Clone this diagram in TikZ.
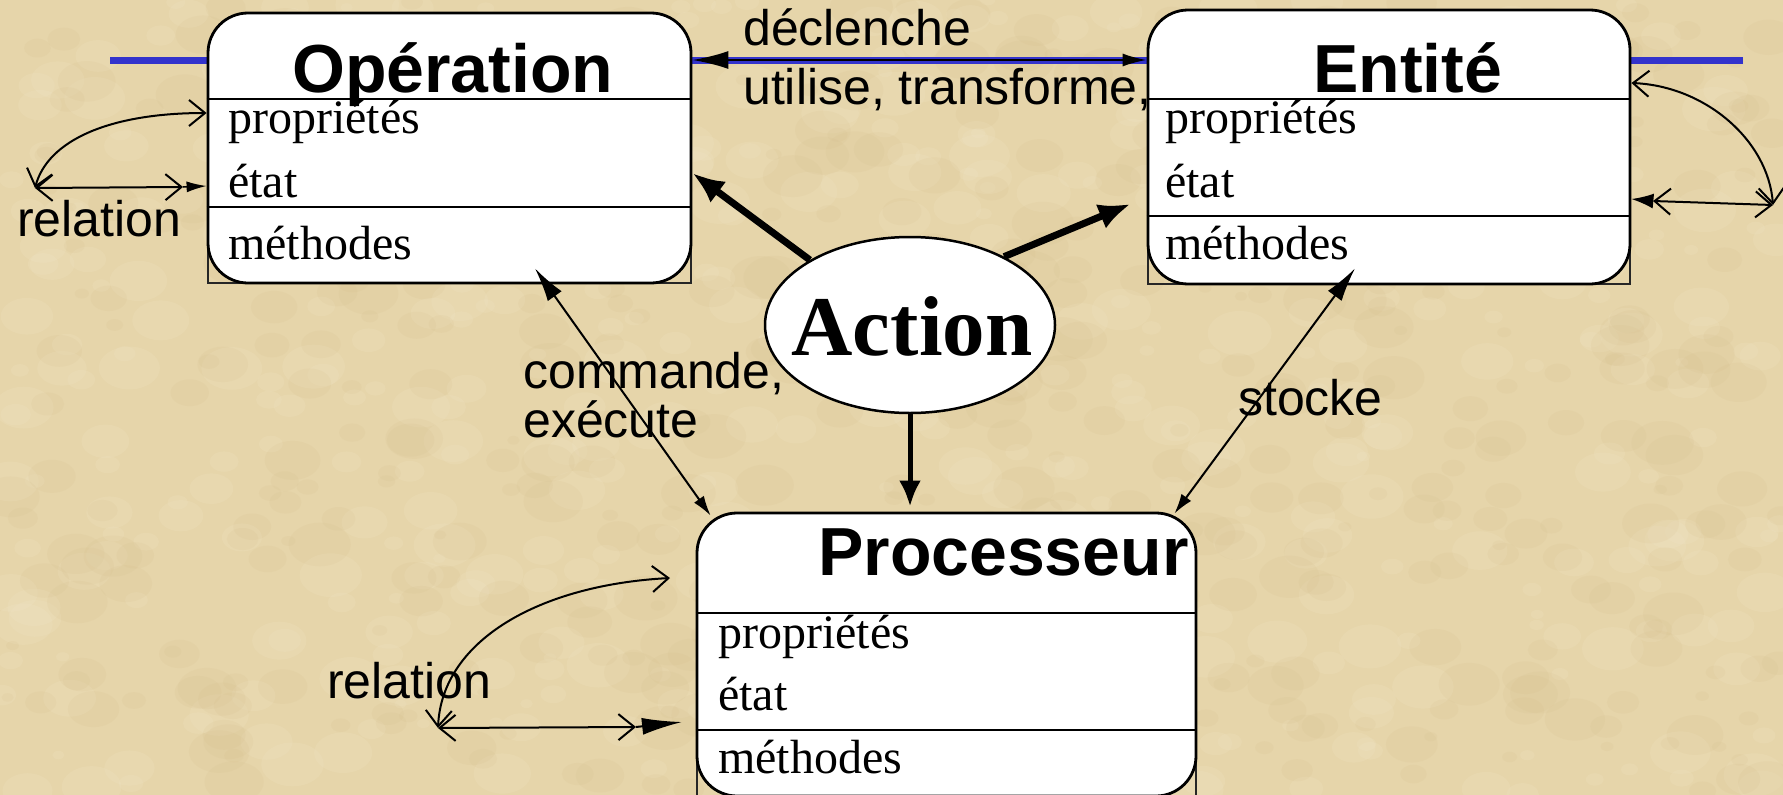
\documentclass[tikz,border=0pt]{standalone}
\usepackage{fontspec}
\setmainfont{Liberation Serif}
\setsansfont{Liberation Sans}
\usetikzlibrary{arrows.meta,shapes.geometric,calc}

\definecolor{parch}{RGB}{230,213,170}
\definecolor{parchlight}{RGB}{243,232,204}
\definecolor{parchdark}{RGB}{210,186,136}
\definecolor{rail}{RGB}{51,51,204}

\tikzset{
  classbox/.style={draw=black, line width=2.8pt, fill=white, rounded corners=40pt, inner sep=0pt},
  backrect/.style={draw=black!85, line width=1.4pt},
  sepline/.style={line width=2.5pt},
  titletext/.style={font=\sffamily\bfseries\fontsize{68}{72}\selectfont, inner sep=0pt, anchor=base west},
  itemtext/.style={font=\rmfamily\fontsize{48}{52}\selectfont, inner sep=0pt, anchor=base west},
  labeltext/.style={font=\sffamily\fontsize{50}{54}\selectfont, inner sep=0pt, anchor=base west},
  thickarrow/.style={line width=7pt, -{Latex[length=32pt,width=26pt]}},
  link/.style={line width=2pt, {Latex[length=34pt,width=17pt]}-{Latex[length=20pt,width=12pt]}},
  relarrow/.style={line width=2pt, {Straight Barb[length=16pt,width=26pt]}-{Straight Barb[length=16pt,width=26pt]}},
  wedge/.style={line width=1.5pt},
}

\begin{document}
\begin{tikzpicture}[x=1pt,y=-1pt]
\useasboundingbox (0,0) rectangle (1783,795);

% parchment background with a soft mottled grain
\begin{scope}
  \clip (0,0) rectangle (1783,795);
  \fill[parch] (0,0) rectangle (1783,795);
  \pgfmathsetseed{11}
  \foreach \k in {1,...,500}{
    \pgfmathsetmacro{\px}{rnd*1783}
    \pgfmathsetmacro{\py}{rnd*795}
    \pgfmathsetmacro{\pr}{6+rnd*26}
    \fill[parchlight, opacity=0.16] (\px,\py) ellipse [x radius=\pr pt, y radius=0.7*\pr pt];
  }
  \foreach \k in {1,...,500}{
    \pgfmathsetmacro{\px}{rnd*1783}
    \pgfmathsetmacro{\py}{rnd*795}
    \pgfmathsetmacro{\pr}{6+rnd*26}
    \fill[parchdark, opacity=0.12] (\px,\py) ellipse [x radius=\pr pt, y radius=0.7*\pr pt];
  }
\end{scope}

% blue rail behind the classes
\coordinate (railL) at (110,60);
\coordinate (railR) at (1743,60);
\draw[rail, line width=7pt] (railL) -- (railR);

% square frames under the rounded boxes
\draw[backrect] (208,99) rectangle (691,283);
\draw[backrect] (1148,99) rectangle (1630,284);
\draw[backrect] (697,613) rectangle (1196,800);

% class boxes
\node[classbox, minimum width=483pt, minimum height=270pt] (op) at (449.5,148) {};
\node[classbox, minimum width=482pt, minimum height=274pt] (ent) at (1389,147) {};
\node[classbox, minimum width=499pt, minimum height=283pt] (proc) at (946.5,654.5) {};

% compartments
\draw[sepline] (op.west |- 0,99) -- (op.east |- 0,99);
\draw[sepline] (op.west |- 0,207) -- (op.east |- 0,207);
\draw[sepline] (ent.west |- 0,99) -- (ent.east |- 0,99);
\draw[sepline] (ent.west |- 0,216) -- (ent.east |- 0,216);
\draw[sepline] (proc.west |- 0,613) -- (proc.east |- 0,613);
\draw[sepline] (proc.west |- 0,730) -- (proc.east |- 0,730);

% class contents
\node[titletext] (opT) at (292,92) {Opération};
\node[itemtext] (opP) at (228,133) {propriétés};
\node[itemtext] (opS) at (228,197) {état};
\node[itemtext] (opM) at (228,259) {méthodes};

\node[titletext] (entT) at (1313,92) {Entité};
\node[itemtext] (entP) at (1165,133) {propriétés};
\node[itemtext] (entS) at (1165,197) {état};
\node[itemtext] (entM) at (1165,259) {méthodes};

\node[titletext] (procT) at (818,575) {Processeur};
\node[itemtext] (procP) at (718,648) {propriétés};
\node[itemtext] (procS) at (718,710) {état};
\node[itemtext] (procM) at (718,773) {méthodes};

% central action
\node[ellipse, draw=black, line width=2.5pt, fill=white, inner sep=0pt,
      minimum width=290pt, minimum height=176pt] (action) at (910,325) {};
\node[font=\rmfamily\bfseries\fontsize{85}{90}\selectfont, inner sep=0pt] (actionT) at (912,326) {Action};

% connector labels
\node[labeltext] (decl) at (743,45) {déclenche};
\node[labeltext] (util) at (743,104) {utilise, transforme,};
\node[labeltext] (rel1) at (17,236) {relation};
\node[labeltext] (rel2) at (327,698) {relation};
\node[labeltext] (cmd1) at (523,388) {commande,};
\node[labeltext] (cmd2) at (523,437) {exécute};
\node[labeltext] (stock) at (1238,415) {stocke};

% action arrows
\draw[thickarrow] (action.147) -- ([yshift=-25pt]op.east);
\draw[thickarrow] (action.36) -- ([xshift=-16pt,yshift=-57pt]ent.west);
\draw[line width=5pt, -{Latex[length=26pt,width=22pt]}, shorten >=5pt] (action.south) -- (action.south |- proc.north);

% links between classes
\draw[line width=2pt, {Latex[length=36pt,width=18pt]}-{Latex[length=24pt,width=13pt]}]
  ([yshift=88pt]op.east) -- ([yshift=87pt]ent.west);
\draw[link] ([xshift=85.5pt,yshift=16pt]op.south) -- ([xshift=15pt,yshift=-4pt]proc.north west);
\draw[link] ([xshift=-34pt,yshift=17pt]ent.south) -- ([xshift=-23pt,yshift=-2pt]proc.north east);

% self relations
\coordinate (opL) at (35,188);
\coordinate (opH) at (183,187);
\draw[relarrow] (opL) .. controls (48,140) and (110,113) .. ([yshift=35pt]op.west);
\draw[relarrow] (opL) -- (opH);
\draw[wedge, -{Latex[length=20pt,width=11pt]}] (opH) -- ([yshift=-38pt]op.west);

\coordinate (entR) at (1773,205);
\coordinate (entH) at (1653,201);
\draw[relarrow] ([yshift=64pt]ent.east) .. controls (1705,86) and (1768,140) .. (entR);
\draw[relarrow] (entH) -- (entR);
\draw[wedge, -{Latex[length=22pt,width=15pt]}] (entH) -- ([yshift=-52pt]ent.east);

\coordinate (procL) at (438,728);
\coordinate (procU) at (670,578);
\coordinate (procH) at (636,727);
\coordinate (procW) at (682,722);
\draw[relarrow] (procL) .. controls (442,640) and (540,585) .. (procU);
\draw[relarrow] (procL) -- (procH);
\draw[line width=2pt, -{Latex[length=40pt,width=17pt]}] (procH) -- (procW);

\end{tikzpicture}
\end{document}
